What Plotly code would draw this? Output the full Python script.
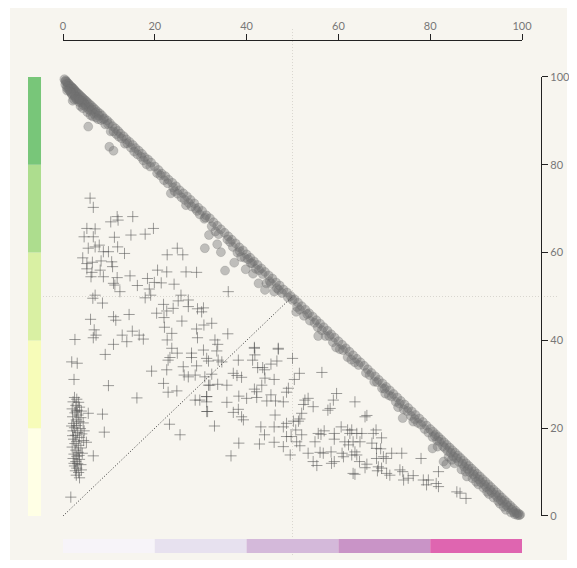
import plotly.graph_objects as go

# bins and colours for the two bands along the axes
bins = [0, 20, 40, 60, 80, 100]
y_band_colors = ["#ffffe5", "#f7fcb9", "#d9f0a3", "#addd8e", "#78c679"]
x_band_colors = ["#f7f4f9", "#e7e1ef", "#d4b9da", "#c994c7", "#df65b0"]
tick_vals = [0, 20, 40, 60, 80, 100]

# circles (x, y)
circles_xy = [
    (3.9, 104.3),
    (0.3, 99.5), (0.6, 99.2), (0.8, 98.9), (1.0, 98.6), (1.2, 98.5), (1.4, 98.2), (1.6, 97.9),
    (1.8, 97.8), (2.0, 97.6), (2.2, 97.3), (2.4, 97.2), (2.6, 96.9), (2.8, 96.6), (3.0, 96.5),
    (3.3, 96.2), (3.6, 95.9), (3.9, 95.6), (4.2, 95.3), (4.5, 95.0), (4.8, 94.7), (5.1, 94.5),
    (5.4, 94.1), (5.8, 93.8), (6.2, 93.4), (6.6, 93.0), (7.0, 92.6), (7.5, 92.1), (8.0, 91.7),
    (8.5, 91.2), (9.0, 90.6), (9.6, 90.1), (10.2, 89.5),
    (0.8, 97.6), (1.5, 96.8), (2.0, 95.9), (2.5, 95.8), (3.0, 94.9), (3.2, 95.4), (4.0, 94.2),
    (4.4, 93.6), (5.0, 93.2), (5.6, 92.6), (6.0, 92.3), (6.8, 91.6), (1.2, 97.2), (2.8, 95.1),
    (3.5, 94.3), (4.6, 94.1), (7.2, 90.8), (8.3, 90.2), (2.1, 94.6), (5.3, 92.0), (6.5, 91.0),
    (9.2, 89.2), (3.8, 93.4), (1.9, 96.2), (0.5, 98.3), (5.5, 88.7), (10.1, 84.1), (11.0, 83.2),
    (0.5, 99.0), (1.0, 97.9), (1.5, 97.3), (2.3, 96.3), (2.7, 95.5), (3.4, 95.0), (4.1, 94.6),
    (4.9, 93.7), (5.7, 93.1), (6.3, 92.6), (7.1, 91.9), (7.8, 91.2), (8.8, 90.4), (9.8, 89.3),
    (1.7, 96.5), (2.4, 94.9), (3.6, 94.8), (4.3, 92.9), (6.0, 91.3), (7.6, 90.4), (0.9, 96.9),
    (10.4, 87.6), (11.6, 87.0), (12.8, 86.0), (14.0, 84.9),
    (10.8, 88.8), (11.4, 88.3), (12.0, 87.7), (12.5, 87.1), (13.2, 86.5), (13.8, 85.8),
    (14.5, 85.2), (15.2, 84.5), (15.8, 83.8), (16.5, 83.2), (17.2, 82.5), (17.8, 81.7),
    (18.5, 81.2), (19.2, 80.5), (12.2, 86.4), (13.5, 84.8), (14.8, 83.9), (16.2, 82.4),
    (17.5, 81.0), (19.0, 79.6), (11.0, 87.6), (18.2, 80.1), (15.5, 83.0), (17.0, 81.8),
    (20.0, 79.6), (20.8, 78.8), (21.5, 78.0), (22.3, 77.4), (23.0, 76.6), (23.8, 75.9),
    (24.6, 75.1), (25.4, 74.2), (26.2, 73.5), (27.0, 72.8), (27.8, 72.0), (28.6, 71.2),
    (29.5, 70.2), (30.3, 69.5), (31.2, 68.5), (32.0, 67.8), (32.8, 66.9), (33.6, 66.1),
    (34.4, 65.3), (21.2, 77.6), (22.8, 75.8), (24.3, 74.0), (25.8, 72.6), (27.4, 71.3),
    (28.9, 70.0), (30.8, 67.7), (32.4, 66.0), (23.5, 73.5), (26.8, 70.8), (29.8, 68.7),
    (33.2, 64.8), (31.8, 64.0), (30.9, 61.0), (33.6, 61.9), (34.4, 60.1), (35.3, 55.9),
    (37.3, 57.7), (20.5, 78.1), (22.0, 76.5), (24.0, 74.8), (25.0, 73.4), (26.5, 72.0),
    (28.0, 70.5), (29.2, 69.5), (31.0, 68.0), (33.9, 64.2),
    (35.2, 64.5), (36.0, 63.7), (36.8, 62.9), (37.6, 62.1), (38.4, 61.2), (39.2, 60.5),
    (40.0, 59.6), (40.8, 58.8), (41.6, 58.0), (42.4, 57.2), (43.2, 56.4), (44.0, 55.6),
    (44.8, 54.8), (45.6, 54.1), (46.4, 53.2), (47.2, 52.5), (48.0, 51.6), (48.8, 50.9),
    (49.6, 50.1), (36.4, 62.4), (38.0, 60.0), (39.6, 58.8), (40.9, 57.6), (42.0, 56.3),
    (43.5, 55.1), (45.0, 53.5), (46.6, 51.9), (44.3, 53.0), (41.4, 55.2), (38.8, 59.0),
    (47.7, 50.8), (44.0, 51.5), (46.0, 51.1), (42.6, 53.0), (39.8, 56.2),
    (35.8, 63.0), (37.0, 61.3), (38.5, 60.3), (40.3, 58.5), (41.2, 57.6), (42.7, 56.0),
    (45.3, 53.0), (47.0, 51.5), (49.0, 49.8),
    (50.4, 49.4), (51.2, 48.6), (52.0, 47.8), (52.8, 47.0), (53.6, 46.2), (54.4, 45.4),
    (55.2, 44.6), (56.0, 43.8), (56.8, 43.0), (57.6, 42.2), (58.4, 41.4), (59.2, 40.6),
    (60.0, 39.8), (60.8, 39.0), (61.6, 38.2), (62.4, 37.4), (63.2, 36.6), (64.0, 35.8),
    (64.8, 35.0), (51.0, 47.6), (52.5, 45.6), (53.8, 44.5), (55.5, 43.0), (57.2, 41.0),
    (58.8, 39.6), (60.3, 38.0), (62.0, 36.2), (63.6, 35.0), (55.6, 41.0), (50.8, 46.5),
    (59.5, 38.4), (50.0, 49.2), (51.6, 47.0), (53.2, 46.0), (54.8, 44.0), (56.4, 42.3),
    (58.0, 41.0), (61.0, 37.8), (62.8, 35.6), (64.4, 34.4),
    (65.6, 34.2), (66.4, 33.4), (67.2, 32.6), (68.0, 31.8), (68.8, 31.0), (69.6, 30.2),
    (70.4, 29.4), (71.2, 28.6), (72.0, 27.8), (72.8, 27.0), (73.6, 26.2), (74.4, 25.4),
    (75.2, 24.6), (76.0, 23.8), (76.8, 23.0), (77.6, 22.2), (78.4, 21.4), (79.2, 20.6),
    (66.0, 32.6), (67.8, 30.6), (69.5, 29.1), (71.0, 27.5), (72.5, 26.0), (74.2, 24.3),
    (75.8, 22.8), (77.3, 21.2), (78.8, 19.8), (74.0, 22.3), (70.2, 27.9), (73.0, 24.8),
    (76.3, 21.5), (66.8, 32.1), (68.4, 30.5), (70.0, 29.0), (71.6, 27.2), (73.3, 25.6),
    (75.0, 23.9), (76.6, 22.1), (78.0, 20.8), (79.6, 19.0),
    (80.0, 19.8), (80.6, 19.2), (81.2, 18.6), (81.8, 18.0), (82.4, 17.4), (83.0, 16.8),
    (83.6, 16.2), (84.2, 15.6), (84.8, 15.0), (85.4, 14.4), (86.0, 13.8), (86.6, 13.2),
    (87.2, 12.6), (87.8, 12.0), (88.4, 11.4), (89.0, 10.8), (89.6, 10.2), (90.2, 9.6),
    (90.8, 9.0), (91.4, 8.4), (92.0, 7.8), (92.6, 7.2), (93.2, 6.6), (93.8, 6.0),
    (94.4, 5.4), (95.0, 4.8), (95.6, 4.2), (96.2, 3.6), (96.8, 3.0), (97.4, 2.4),
    (98.0, 1.8), (98.6, 1.2), (99.2, 0.6), (99.6, 0.3),
    (80.5, 18.0), (81.5, 17.2), (82.8, 15.9), (83.8, 14.8), (85.0, 13.6), (86.2, 12.4),
    (87.4, 11.2), (88.6, 10.0), (89.8, 8.9), (91.0, 7.7), (92.2, 6.6), (93.4, 5.4),
    (94.6, 4.3), (95.8, 3.2), (97.0, 2.0), (98.2, 0.9), (84.0, 13.5), (86.8, 10.6),
    (89.2, 8.6), (91.6, 6.4), (93.8, 4.2), (95.2, 2.8), (97.6, 0.8), (80.5, 15.4),
    (82.9, 12.4), (83.5, 11.8), (88.0, 9.0), (90.5, 7.2), (92.8, 5.0), (96.5, 1.4),
    (99.0, 0.2), (81.0, 18.2), (82.0, 16.9), (83.2, 15.5), (84.5, 14.4), (85.7, 13.2),
    (87.0, 11.9), (88.2, 10.7), (89.4, 9.5), (90.6, 8.3), (91.8, 7.1), (93.0, 5.9),
    (94.2, 4.8), (95.4, 3.6), (96.6, 2.5), (97.8, 1.4), (98.8, 0.6), (99.4, 0.2),
    (85.3, 12.0), (87.7, 10.1), (90.0, 7.8), (92.4, 5.5), (94.8, 3.4), (96.0, 2.1),
    (98.4, 0.4), (81.6, 15.8), (84.7, 12.8),
]

# crosses (x, y)
crosses_xy = [
    (5.9, 72.4), (6.6, 70.3), (10.4, 67.0), (11.8, 68.2), (12.0, 67.4), (15.2, 68.2),
    (5.2, 65.5), (7.0, 65.4), (4.6, 63.6), (6.6, 63.6), (11.2, 63.5), (14.8, 64.0),
    (17.9, 64.2), (19.7, 65.5), (5.5, 61.0), (7.0, 61.3), (7.9, 61.7), (8.8, 60.2),
    (9.9, 60.2), (11.9, 61.3), (13.4, 59.8), (4.3, 58.8), (5.2, 57.5), (6.4, 57.8),
    (8.3, 58.1), (10.6, 57.9), (10.8, 56.8), (5.2, 56.3), (6.3, 55.5), (8.1, 56.0),
    (8.8, 54.5), (6.1, 54.5), (11.8, 54.3), (14.6, 54.7), (18.4, 54.1), (20.6, 56.0),
    (22.6, 55.6), (26.8, 55.6), (29.1, 55.5), (22.7, 59.5), (24.9, 61.0), (26.1, 59.5),
    (11.0, 53.0), (11.3, 52.6), (16.2, 52.5), (18.8, 51.7), (19.9, 53.2), (21.4, 53.1),
    (24.2, 52.8), (12.4, 51.1), (19.1, 50.3), (17.9, 49.7), (6.5, 49.6), (7.0, 50.3),
    (8.6, 48.5), (25.7, 50.3), (25.1, 49.0), (27.3, 49.2), (21.9, 48.2), (22.6, 46.7),
    (20.4, 46.2), (24.0, 47.3), (27.3, 47.7), (29.3, 47.2), (30.6, 47.4), (30.2, 46.5),
    (6.0, 44.8), (11.0, 45.4), (11.5, 44.6), (14.4, 45.9), (22.0, 45.2), (25.9, 44.4),
    (30.7, 43.5), (6.8, 42.4), (7.2, 41.2), (6.6, 40.6), (2.6, 40.2), (12.9, 41.2),
    (15.1, 42.1), (16.6, 41.2), (17.5, 40.3), (13.9, 39.7), (11.0, 39.1), (22.1, 43.0),
    (23.7, 41.6), (22.7, 40.1), (29.1, 42.6), (29.3, 40.6),
    (36.0, 51.1), (32.4, 43.9), (35.9, 41.5), (33.1, 40.1), (33.7, 39.1), (41.7, 38.4),
    (46.9, 38.2),
    (1.9, 35.1), (3.1, 34.8), (9.2, 36.8), (2.4, 31.1), (9.9, 29.7), (16.1, 26.9),
    (19.3, 33.0), (22.6, 33.3), (21.9, 30.2), (22.9, 28.2), (24.8, 28.5), (22.9, 35.5),
    (23.3, 36.1), (24.9, 37.1), (23.7, 38.2), (26.2, 34.0), (26.4, 32.1), (27.3, 31.7),
    (28.8, 32.1), (29.1, 34.2), (28.0, 37.1), (28.0, 36.1), (30.6, 37.8), (31.3, 35.9),
    (30.9, 31.7), (31.7, 29.8), (28.8, 26.4), (29.8, 26.4), (31.3, 27.2), (31.3, 23.8),
    (23.2, 20.9), (25.5, 18.5), (8.6, 23.2), (9.0, 19.1), (6.6, 13.7), (1.7, 4.3),
    (5.5, 23.4),
    (2.5, 27.0), (3.0, 26.6), (2.2, 26.0), (3.4, 25.9), (2.8, 25.2), (3.6, 24.8),
    (2.0, 24.4), (3.1, 24.1), (4.0, 23.9), (2.6, 23.5), (3.3, 23.0), (2.1, 22.6),
    (3.9, 22.4), (2.9, 21.9), (3.5, 21.5), (2.3, 21.1), (4.4, 21.2), (3.0, 20.6),
    (2.5, 20.1), (3.8, 19.9), (2.2, 19.4), (3.2, 19.0), (4.1, 18.7), (2.7, 18.4),
    (3.6, 17.9), (2.3, 17.5), (3.0, 17.0), (4.5, 17.2), (5.1, 16.8), (2.6, 16.5),
    (3.4, 16.1), (2.0, 15.7), (3.9, 15.5), (2.8, 15.0), (3.3, 14.5), (2.4, 14.1),
    (4.2, 14.3), (3.0, 13.6), (2.2, 13.1), (3.6, 12.9), (2.8, 12.4), (3.2, 11.9),
    (2.5, 11.4), (3.9, 11.7), (3.0, 10.9), (2.7, 10.3), (3.4, 9.9), (2.9, 9.3),
    (3.6, 8.7), (2.4, 12.0), (4.0, 10.5), (3.5, 13.8), (2.1, 18.3), (4.6, 19.4),
    (2.9, 23.9), (1.9, 20.5),
    (33.5, 37.6), (31.7, 35.3), (33.8, 35.5), (34.6, 35.1), (38.2, 35.5), (41.7, 38.2),
    (41.8, 36.7), (41.3, 35.5), (46.9, 38.0), (50.0, 35.9), (46.6, 35.3), (45.3, 34.6),
    (42.4, 33.8), (43.9, 33.3), (43.5, 33.8), (44.0, 31.4), (46.0, 31.1), (50.4, 31.1),
    (51.5, 32.5), (56.4, 32.7), (37.1, 32.5), (37.9, 32.0), (38.9, 31.6), (32.4, 32.3),
    (32.0, 29.8), (33.7, 30.0), (35.7, 29.8), (43.3, 29.8), (41.7, 28.9), (42.2, 28.3),
    (49.1, 29.1), (48.7, 28.2), (31.3, 27.2), (31.3, 26.0), (38.3, 27.3), (40.0, 26.8),
    (42.2, 27.0), (45.3, 27.6), (44.4, 26.2), (46.3, 26.2), (48.0, 26.0), (35.7, 25.9),
    (31.5, 23.8), (37.1, 23.6), (38.2, 24.3), (38.9, 22.6), (39.3, 21.9), (46.2, 23.0),
    (52.0, 23.4), (51.6, 22.1), (52.7, 26.4), (53.4, 26.8), (52.4, 25.4), (54.5, 24.9),
    (58.9, 26.4), (59.6, 27.9), (58.2, 24.5), (57.7, 24.1), (33.0, 20.5), (43.1, 20.3),
    (43.9, 18.5), (46.0, 20.3), (48.0, 20.3), (48.7, 21.1), (50.2, 21.6), (51.3, 21.6),
    (50.7, 19.6), (52.0, 18.5), (49.7, 18.1), (48.7, 18.1), (50.9, 16.9), (51.6, 16.0),
    (48.0, 15.8), (46.0, 16.8), (42.8, 16.4), (38.3, 16.6), (36.6, 13.7), (49.5, 13.9),
    (54.9, 16.9), (53.4, 14.3), (54.5, 12.4), (55.3, 11.5), (55.6, 18.8), (56.2, 18.6),
    (56.9, 19.4), (56.0, 14.5), (56.7, 14.3), (58.4, 14.6), (59.1, 18.8), (59.1, 17.5),
    (60.6, 20.3), (62.0, 19.6), (62.5, 18.8), (61.4, 16.9), (62.2, 16.2), (60.8, 14.3),
    (61.1, 13.5), (59.1, 12.4), (58.5, 12.0), (62.9, 13.9), (63.2, 9.7),
    (63.6, 26.0), (65.8, 22.6), (66.2, 22.9), (62.9, 19.6), (64.0, 18.8), (65.1, 18.8),
    (63.2, 16.9), (64.7, 16.9), (67.6, 18.8), (68.2, 19.6), (69.4, 17.8), (67.3, 16.6),
    (68.3, 15.4), (69.2, 15.3), (63.6, 14.6), (64.0, 13.9), (64.6, 12.4), (66.2, 11.8),
    (65.8, 11.0), (68.3, 13.1), (69.8, 13.5), (70.4, 13.1), (71.6, 14.3), (73.8, 14.3),
    (68.7, 11.2), (69.4, 10.9), (68.5, 10.3), (70.5, 9.7), (71.2, 9.3), (63.6, 9.5),
    (73.4, 10.5), (74.0, 10.1), (74.2, 8.2), (75.2, 8.6), (76.3, 9.2), (78.0, 13.1),
    (78.5, 8.2), (79.6, 8.2), (79.2, 7.1), (81.3, 7.4), (81.8, 6.7), (81.8, 10.1),
    (85.8, 5.5), (86.5, 5.2), (87.8, 4.0),
]

circ_x = [p[0] for p in circles_xy]
circ_y = [p[1] for p in circles_xy]
cross_x = [p[0] for p in crosses_xy]
cross_y = [p[1] for p in crosses_xy]

fig = go.Figure()

fig.add_trace(go.Scatter(
    x=cross_x, y=cross_y, mode="markers", cliponaxis=False,
    marker=dict(symbol="cross-thin", size=8,
                line=dict(width=1, color="rgba(80,80,80,0.55)")),
    hoverinfo="x+y",
))
fig.add_trace(go.Scatter(
    x=circ_x, y=circ_y, mode="markers", cliponaxis=False,
    marker=dict(symbol="circle", size=9, color="rgba(115,115,115,0.42)",
                line=dict(width=0.8, color="rgba(110,110,110,0.3)")),
    hoverinfo="x+y",
))
# dotted diagonal from the origin to the centre
fig.add_trace(go.Scatter(
    x=[0, 50], y=[0, 50], mode="lines", hoverinfo="skip",
    line=dict(color="#333", width=1, dash="1px,2px"),
))

shapes = [
    # light panel behind everything
    dict(type="rect", xref="paper", yref="paper", x0=-0.1109, x1=1.0544,
         y0=-0.13, y1=1.08, fillcolor="#f7f5ef", line_width=0, layer="below"),
    # centre guides
    dict(type="line", xref="x", yref="paper", x0=50, x1=50, y0=-0.082, y1=1.027,
         line=dict(color="#d9d6cf", width=1, dash="1px,2px"), layer="below"),
    dict(type="line", xref="paper", yref="y", x0=-0.0732, x1=1.0335, y0=50, y1=50,
         line=dict(color="#d9d6cf", width=1, dash="1px,2px"), layer="below"),
]
for i in range(len(bins) - 1):
    shapes.append(dict(type="rect", xref="paper", yref="y", x0=-0.0732, x1=-0.046,
                       y0=bins[i], y1=bins[i + 1], fillcolor=y_band_colors[i],
                       line_width=0, layer="below"))
    shapes.append(dict(type="rect", xref="x", yref="paper", x0=bins[i], x1=bins[i + 1],
                       y0=-0.0777, y1=-0.0483, fillcolor=x_band_colors[i],
                       line_width=0, layer="below"))

axis_style = dict(
    range=[0, 100], tickvals=tick_vals, showgrid=False, zeroline=False,
    showline=True, linecolor="#222", linewidth=1.2, automargin=False,
    ticks="outside", ticklen=6, tickcolor="#222", tickwidth=1.2,
    tickfont=dict(family="Lato", size=11, color="#777"),
)

fig.update_layout(
    width=561, height=552, autosize=False,
    margin=dict(l=55, r=28, t=32, b=44),
    paper_bgcolor="white", plot_bgcolor="rgba(0,0,0,0)",
    showlegend=False,
    xaxis=dict(domain=[0, 0.9603], side="top", anchor="free", position=1.0, **axis_style),
    yaxis=dict(domain=[0, 0.9223], side="right", anchor="free", position=1.0, **axis_style),
    shapes=shapes,
    font=dict(family="Lato"),
)

fig.write_html("out.html", config={"responsive": False})
